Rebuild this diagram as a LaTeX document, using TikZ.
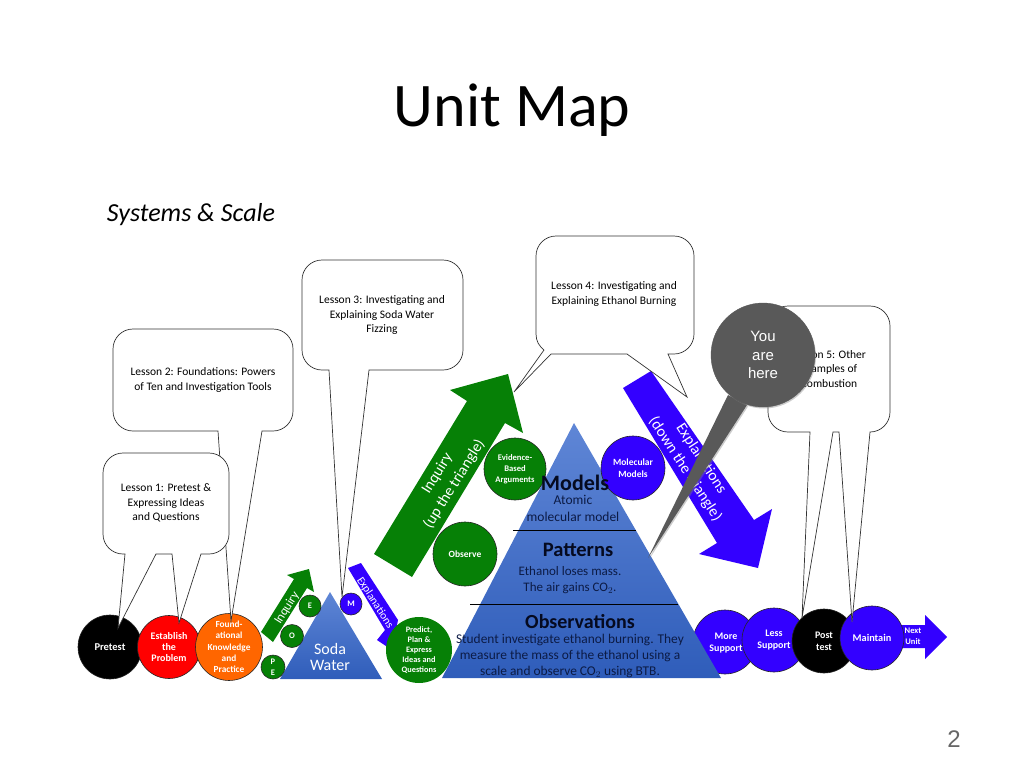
\documentclass[tikz,border=0pt]{standalone}
\usepackage{fontspec}
\setmainfont{Carlito}
\newfontfamily\slidesans{Liberation Sans}
\usetikzlibrary{shadows}
\definecolor{leafgreen}{HTML}{068006}
\definecolor{inkblue}{HTML}{3300FF}
\definecolor{flameorange}{HTML}{FF6600}
\definecolor{bubblegrey}{HTML}{595959}
\definecolor{labelink}{HTML}{0C1B45}
\definecolor{headink}{HTML}{050A20}
\definecolor{peakblue}{HTML}{5F86D6}
\definecolor{baseblue}{HTML}{2F5DBA}
\tikzset{
 lesson/.style={draw=black!80,fill=white,line width=0.7pt},
 lessontext/.style={align=center,text=black,font=\fontsize{11.5}{14.5}\selectfont},
 ball/.style={circle,draw=black!85,line width=0.6pt,inner sep=0pt,align=center,text=white},
 balltext/.style 2 args={font=\bfseries\fontsize{#1}{#2}\selectfont},
 headtext/.style={text=headink,font=\bfseries\fontsize{#1}{#1}\selectfont},
 bodytext/.style 2 args={text=labelink,align=center,font=\fontsize{#1}{#2}\selectfont},
 arrowtext/.style 2 args={text=white,align=center,font=\fontsize{#1}{#2}\selectfont},
 peak/.style={top color=peakblue,bottom color=baseblue},
}
\begin{document}
\begin{tikzpicture}[x=1pt,y=-1pt]
 \useasboundingbox (0,0) rectangle (1024,768);
 \node (title) at (512,110) {\fontsize{62}{62}\selectfont Unit Map};
 \node (unitname) at (191,215) {\fontsize{26}{26}\selectfont\itshape Systems \& Scale};
 \node[text=black!60] (pagenumber) at (954,739) {\slidesans\fontsize{24}{24}\selectfont 2};

 \node[ball,fill=black,minimum size=64pt,balltext={10.5}{12}] (pretest) at (110,647) {Pretest};
 \node[ball,fill=red,minimum size=63pt,balltext={10}{11.3}] (establish) at (169,647) {Establish\\the\\Problem};
 \node[ball,fill=flameorange,minimum size=64pt,balltext={9.3}{11.3}] (foundation) at (229,647) {Found-\\ational\\Knowledge\\and\\Practice};
 \node[ball,fill=inkblue,minimum size=64pt] (moresupport) at (725,642) {};

 \fill[leafgreen] (261,632)--(294,579)--(287,575)--(309,569)--(314,592)--(307,588)--(273,642)--cycle;
 \fill[inkblue] (348,568)--(361,563)--(398,620)--(392,650)--(377,640)--(385,630)--cycle;
 \fill[leafgreen] (374,554)--(467,401)--(450,390)--(508,374)--(523,433)--(505,423)--(412,577)--cycle;
 \fill[inkblue] (623,388)--(651,371)--(754,520)--(772,509)--(758,568)--(699,554)--(717,543)--cycle;

 \shade[peak] (330,592)--(382,679)--(280,679)--cycle;
 \shade[peak] (574,423)--(721,678)--(442,678)--cycle;
 \draw[black,line width=0.7pt] (513,530)--(636,530);
 \draw[black,line width=0.7pt] (470,604)--(678,604);

 \node[ball,fill=leafgreen,minimum size=22pt,balltext={8.5}{11}] (explore) at (310,606) {E};
 \node[ball,fill=leafgreen,minimum size=23pt,balltext={8.5}{11}] (observesmall) at (292,636) {O};
 \node[ball,fill=leafgreen,minimum size=24pt,balltext={8.5}{11}] (predictsmall) at (273,667) {P\\E};
 \node[ball,fill=inkblue,minimum size=22pt,balltext={8.5}{11}] (modelsmall) at (351,604) {M};
 \node[ball,fill=leafgreen,draw=none,minimum size=66pt,balltext={8.3}{10}] (predict) at (419,650) {Predict,\\Plan \&\\Express\\Ideas and\\Questions};
 \node[ball,fill=leafgreen,minimum size=62pt,balltext={8.6}{10.8}] (evidence) at (515,469) {Evidence-\\Based\\Arguments};
 \node[ball,fill=leafgreen,minimum size=64pt,balltext={9.5}{12}] (observe) at (465,554) {Observe};
 \node[ball,fill=inkblue,minimum size=64pt,balltext={9.5}{12}] (molecular) at (633,468) {Molecular\\Models};

 \node[ball,fill=inkblue,minimum size=64pt,balltext={10}{12.3}] (lesssupport) at (774,640) {Less\\Support};
 \node[ball,fill=black,minimum size=64pt,balltext={10}{12.3}] (posttest) at (824,641) {Post\\test};
 \fill[inkblue] (895,625)--(925,625)--(925,615)--(947,637)--(925,659)--(925,648)--(895,648)--cycle;
 \node[ball,fill=inkblue,minimum size=64pt,balltext={10.3}{12}] (maintain) at (872,638) {Maintain};
 \node[text=white,align=center,balltext={8.5}{11}] (nextunit) at (913,636) {Next\\Unit};
 \node[text=white,align=center,balltext={10}{12.5}] (moretext) at (726,643) {More\\Support};

 \node[arrowtext={16}{16}] (sodawater) at (330,657) {Soda\\Water};
 \node[arrowtext={12.5}{13},rotate=58] (inquirysmall) at (287,608) {Inquiry};
 \node[arrowtext={11.3}{12},rotate=-57] (explainsmall) at (375,603) {Explanations};
 \node[arrowtext={15.5}{20},rotate=58] (inquirybig) at (446,479) {Inquiry\\(up the triangle)};
 \node[arrowtext={15.5}{19},rotate=-57] (explainbig) at (693,464) {Explanations\\(down the triangle)};

 \node[headtext=22] (models) at (575,483) {Models};
 \node[bodytext={13.5}{17}] (modelsbody) at (573,508) {Atomic\\molecular model};
 \node[headtext=20.5] (patterns) at (578,550) {Patterns};
 \node[bodytext={13}{16}] (patternsbody) at (570,580) {Ethanol loses mass.\\The air gains CO$_2$.};
 \node[headtext=20] (observations) at (580,622) {Observations};
 \node[bodytext={13.4}{16}] (observationsbody) at (570,656) {Student investigate ethanol burning. They\\measure the mass of the ethanol using a\\scale and observe CO$_2$ using BTB.};

 \draw[lesson] (218,431) [rounded corners=20pt] --(113,431)--(113,329)--(293,329)--(293,431) [sharp corners] --(262,431)--(231,621)--cycle;
 \node[lessontext] (lessontwo) at (203,380) {Lesson 2: Foundations: Powers\\of Ten and Investigation Tools};
 \draw[lesson] (125,554) [rounded corners=20pt] --(103,554)--(103,453)--(229,453)--(229,554) [sharp corners] --(201,554)--(179,623)--(172,554)--(156,554)--(118,628)--cycle;
 \node[lessontext] (lessonone) at (166,503) {Lesson 1: Pretest \&\\Expressing Ideas\\and Questions};
 \draw[lesson] (329,370) [rounded corners=20pt] --(302,370)--(302,260)--(463,260)--(463,370) [sharp corners] --(369,370)--(342,597)--cycle;
 \node[lessontext] (lessonthree) at (382,315) {Lesson 3: Investigating and\\Explaining Soda Water\\Fizzing};
 \draw[lesson] (544,350) .. controls (539,346) and (536,341) .. (536,334) [rounded corners=20pt] --(536,236)--(694,236)--(694,354) [sharp corners] --(668,354)--(687,397)--(627,354)--(551,354)--(514,392)--cycle;
 \node[lessontext] (lessonfour) at (614,294) {Lesson 4: Investigating and\\Explaining Ethanol Burning};
 \draw[lesson] (810,432) [rounded corners=20pt] --(768,432)--(768,306)--(890,306)--(890,432) [sharp corners] --(870,432)--(852,622)--(839,432)--(833,432)--(802,618)--cycle;
 \node[lessontext] (lessonfive) at (829,369) {Lesson 5: Other\\Examples of\\Combustion};

 \coordinate (heretip) at (648,558);
 \fill[bubblegrey,drop shadow={shadow xshift=1pt,shadow yshift=-1.5pt,opacity=0.4}] (728,395)--(heretip)--(747,405)--cycle;
 \node[circle,fill=bubblegrey,draw=bubblegrey,minimum size=104pt,inner sep=0pt,align=center,text=white,font=\slidesans\fontsize{15}{18.5}\selectfont,drop shadow={shadow xshift=1pt,shadow yshift=-1.5pt,opacity=0.4}] (here) at (763,355) {You\\are\\here};
\end{tikzpicture}
\end{document}
